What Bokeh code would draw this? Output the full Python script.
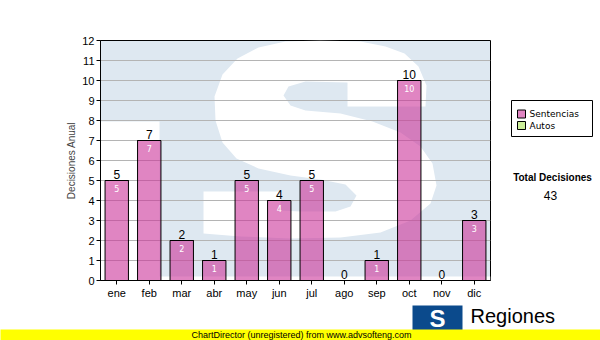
from bokeh.plotting import figure
from bokeh.layouts import row, column
from bokeh.models import ColumnDataSource, Range1d, FixedTicker
from bokeh.core.properties import value
from bokeh.embed import file_html
from bokeh.resources import INLINE

# ---------------- data ----------------
months = ["ene", "feb", "mar", "abr", "may", "jun", "jul", "ago", "sep", "oct", "nov", "dic"]
sentencias = [5, 7, 2, 1, 5, 4, 5, 0, 1, 10, 0, 3]
autos = [0, 0, 0, 0, 0, 0, 0, 0, 0, 0, 0, 0]
y_ticks = [0, 1, 2, 3, 4, 5, 6, 7, 8, 9, 10, 11, 12]
series_names = ["Sentencias", "Autos"]
series_colors = ["#cc3399", "#ccee99"]

totals = [s + a for s, a in zip(sentencias, autos)]
grand_total = sum(totals)
xpos = [i + 0.5 for i in range(len(months))]   # category centres

# ---------------- background watermark (decoration, canvas pixels) ----------------
wm_left_x = [100, 159, 159, 100]
wm_left_y = [121, 121, 280, 280]
wm_bottom_x = [100, 490, 490, 100]
wm_bottom_y = [276, 276, 280, 280]
wm_s_pts = [(385, 46), (360, 41), (320, 40), (285, 41), (258, 47), (237, 58), (222, 74), (214, 96),
            (215, 120), (222, 142), (236, 158), (258, 168), (290, 175), (320, 179), (345, 184),
            (356, 195), (350, 206), (335, 211), (300, 211), (280, 210), (280, 191), (203, 191),
            (203, 233), (240, 236), (290, 238), (340, 237), (380, 232), (410, 220), (430, 203),
            (436, 185), (432, 163), (420, 146), (400, 132), (372, 121), (340, 113), (305, 110),
            (290, 105), (283, 95), (288, 86), (305, 81), (347, 82), (347, 106), (425, 106),
            (426, 85), (418, 66), (404, 53)]
wm_s_x = [p_[0] for p_ in wm_s_pts]
wm_s_y = [p_[1] for p_ in wm_s_pts]

FONT = "Liberation Sans"

# ================= main chart =================
p = figure(width=491, height=302,
           x_range=Range1d(0, len(months)),
           y_range=Range1d(0, 12),
           output_backend="svg", toolbar_location=None,
           min_border_left=100, min_border_right=1,
           min_border_top=40, min_border_bottom=22)
p.frame_align = False
p.background_fill_color = "#dee8f1"
p.border_fill_color = "white"
p.outline_line_color = "black"
p.outline_line_width = 1

p.extra_x_ranges = {"px": Range1d(100, 490)}
p.extra_y_ranges = {"px": Range1d(280, 40)}
p.patches(xs=[wm_left_x, wm_bottom_x, wm_s_x], ys=[wm_left_y, wm_bottom_y, wm_s_y],
          x_range_name="px", y_range_name="px",
          fill_color="white", line_color=None, level="image")

src = ColumnDataSource(dict(x=xpos, month=months, sent=sentencias, autos=autos, total=totals,
                            total_str=[str(t) for t in totals]))
r1 = p.vbar(x="x", bottom=0, top="sent", width=0.72, source=src,
            fill_color=series_colors[0], fill_alpha=0.6, line_color="black", line_width=1)
r2 = p.vbar(x="x", bottom="sent", top="total", width=0.72, source=src,
            fill_color=series_colors[1], line_color="black", line_width=1)

p.text(x="x", y="total", text="total_str", source=src,
       text_align="center", text_baseline="bottom", y_offset=-2,
       text_font=value(FONT), text_font_size="12px", text_color="black")

in_x = [x for x, s in zip(xpos, sentencias) if s > 0]
in_v = [s for s in sentencias if s > 0]
src_in = ColumnDataSource(dict(x=in_x, sent=in_v, lab=[str(v) for v in in_v]))
p.text(x="x", y="sent", text="lab", source=src_in,
       text_align="center", text_baseline="top", y_offset=4,
       text_font=value("DejaVu Sans"), text_font_size="8px", text_color="white")

p.xgrid.visible = False
p.ygrid.grid_line_color = "#b4b4b4"
p.ygrid.grid_line_width = 1
p.yaxis.ticker = FixedTicker(ticks=y_ticks)
p.xaxis.ticker = FixedTicker(ticks=xpos)
p.xaxis.major_label_overrides = {x: m for x, m in zip(xpos, months)}
p.xaxis.minor_tick_line_color = None
p.yaxis.minor_tick_line_color = None
for ax in (p.xaxis[0], p.yaxis[0]):
    ax.axis_line_color = "black"
    ax.major_tick_line_color = "black"
    ax.major_tick_in = 0
    ax.major_tick_out = 4
    ax.major_label_text_font = FONT
    ax.major_label_text_font_size = "11px"
    ax.major_label_text_color = "black"
p.xaxis.major_label_standoff = 2
p.yaxis.major_label_standoff = 2
p.yaxis.axis_label = "Decisiones Anual"
p.yaxis.axis_label_text_font = FONT
p.yaxis.axis_label_text_font_size = "10px"
p.yaxis.axis_label_text_font_style = "normal"
p.yaxis.axis_label_standoff = 2


def blank(w, h, x0, x1, y0, y1):
    f = figure(width=w, height=h, x_range=Range1d(x0, x1), y_range=Range1d(y1, y0),
               output_backend="svg", toolbar_location=None,
               x_axis_location=None, y_axis_location=None, min_border=0,
               min_border_left=0, min_border_right=0, min_border_top=0, min_border_bottom=0)
    f.frame_align = False
    f.outline_line_color = None
    f.grid.visible = False
    f.background_fill_color = "white"
    f.border_fill_color = "white"
    return f


# ================= right panel: legend + total =================
side = blank(109, 302, 491, 600, 0, 302)
side.quad(left=[511], right=[592], top=[100], bottom=[136],
          fill_color="white", line_color="black", line_width=1)
leg_y = [113.5, 125]
side.quad(left=[517, 517], right=[525, 525],
          top=[y - 4 for y in leg_y], bottom=[y + 4 for y in leg_y],
          fill_color=series_colors, fill_alpha=[0.6, 1.0], line_color="black", line_width=1)
side.text(x=[529, 529], y=leg_y, text=series_names, text_baseline="middle",
          text_align="left", text_font=value("DejaVu Sans"), text_font_size="9px",
          text_color="black")
side.text(x=[552], y=[177], text=["Total Decisiones"], text_baseline="middle",
          text_align="center", text_font=value(FONT), text_font_size="10px",
          text_font_style="bold", text_color="black")
side.text(x=[550], y=[195], text=[str(grand_total)], text_baseline="middle",
          text_align="center", text_font=value(FONT), text_font_size="12px",
          text_color="black")

# ================= bottom strip: logo + unregistered banner =================
bottom = blank(600, 38, 0, 600, 302, 340)
bottom.background_fill_color = "white"
bottom.quad(left=[412], right=[462], top=[305], bottom=[340],
            fill_color="#0b4a8c", line_color=None)
bottom.text(x=[437], y=[318], text=["S"], text_baseline="middle", text_align="center",
            text_font=value(FONT), text_font_size="24px", text_font_style="bold",
            text_color="white")
bottom.text(x=[470], y=[315.5], text=["Regiones"], text_baseline="middle",
            text_align="left", text_font=value(FONT), text_font_size="20px",
            text_color="black")
bottom.quad(left=[-20], right=[620], top=[329], bottom=[345],
            fill_color="#ffff00", line_color=None)
bottom.text(x=[301], y=[334.5], text=["ChartDirector (unregistered) from www.advsofteng.com"],
            text_baseline="middle", text_align="center", text_font=value(FONT),
            text_font_size="9px", text_color="black")

layout = column(row(p, side), bottom)
open("out.html", "w").write(file_html(layout, INLINE))
